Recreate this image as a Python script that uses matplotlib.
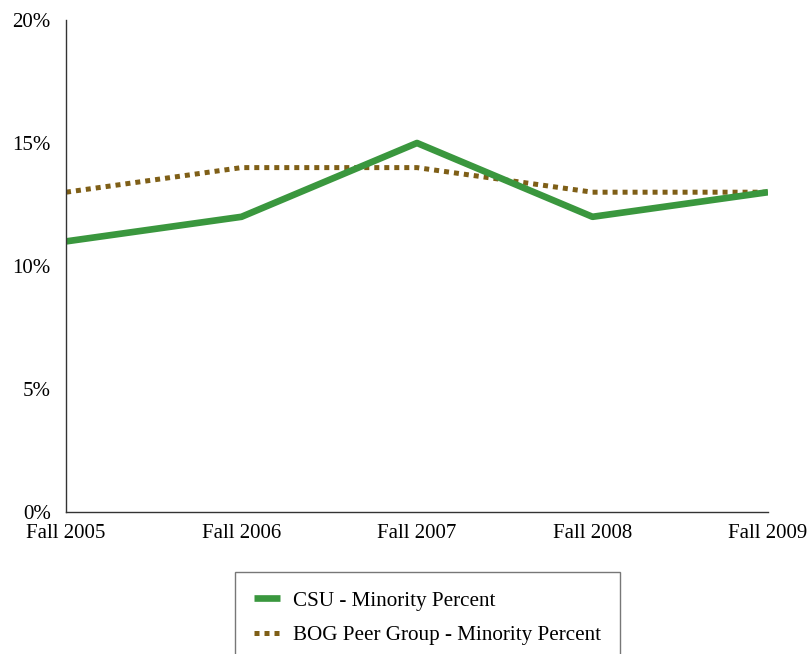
import matplotlib.pyplot as plt
from matplotlib.ticker import FuncFormatter

years = ["Fall 2005", "Fall 2006", "Fall 2007", "Fall 2008", "Fall 2009"]
csu_pct = [11, 12, 15, 12, 13]
bog_pct = [13, 14, 14, 13, 13]
y_ticks = [0, 5, 10, 15, 20]

GREEN = "#3A973E"
BROWN = "#7F5F17"

plt.rcParams["font.family"] = ["Liberation Serif", "DejaVu Serif"]

fig = plt.figure(figsize=(8.09, 6.54), dpi=100)
ax = fig.add_axes([66 / 809, 1 - 512 / 654, (768 - 66) / 809, (512 - 20) / 654])

x = list(range(len(years)))
bog_line, = ax.plot(x, bog_pct, color=BROWN, linewidth=3.6, linestyle=(0, (1, 1)),
                    dash_capstyle="butt", label="BOG Peer Group - Minority Percent")
csu_line, = ax.plot(x, csu_pct, color=GREEN, linewidth=4.8, solid_capstyle="butt",
                    label="CSU - Minority Percent")

ax.set_xlim(0, len(years) - 1)
ax.set_ylim(0, 20)
ax.set_xticks(x)
ax.set_xticklabels(years)
ax.set_yticks(y_ticks)
ax.yaxis.set_major_formatter(FuncFormatter(lambda v, _: f"{v:.0f}%"))
ax.tick_params(axis="both", length=0, labelsize=15, colors="black")
ax.tick_params(axis="y", pad=11)
ax.tick_params(axis="x", pad=8.5)

for side in ["top", "right"]:
    ax.spines[side].set_visible(False)
for side in ["left", "bottom"]:
    ax.spines[side].set_color("#333333")
    ax.spines[side].set_linewidth(1.0)

legend = fig.legend(
    handles=[csu_line, bog_line], loc="upper left",
    bbox_to_anchor=(235 / 809, 1 - 572 / 654), fontsize=15.2,
    frameon=True, fancybox=False, handlelength=1.25, handletextpad=0.6,
    borderpad=0.9, labelspacing=0.7, borderaxespad=0,
)
legend.get_frame().set_edgecolor("#555555")
legend.get_frame().set_linewidth(1.0)

fig.savefig("out.png", dpi=100)
